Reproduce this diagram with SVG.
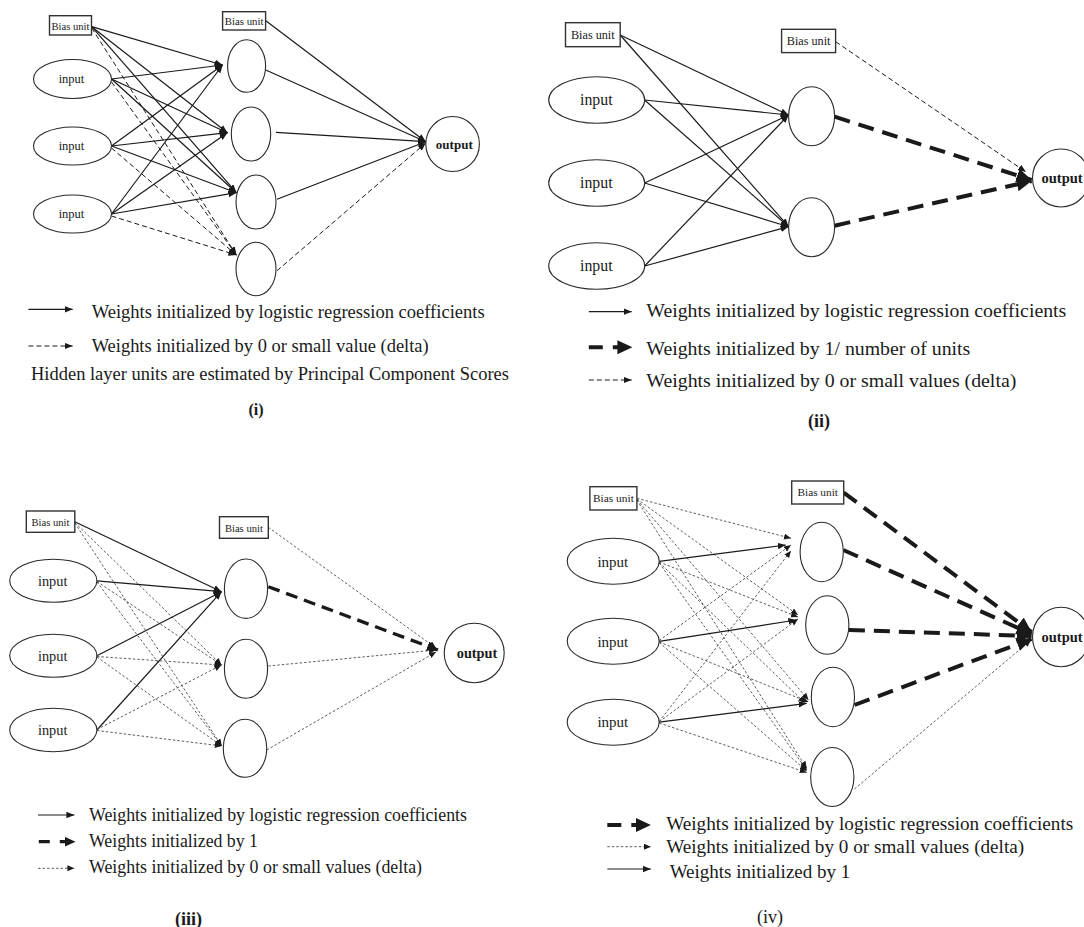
<svg xmlns="http://www.w3.org/2000/svg" width="1084" height="927" viewBox="0 0 1084 927">
<defs>
<marker id="ah" markerUnits="userSpaceOnUse" markerWidth="10" markerHeight="8" refX="8" refY="3.5" orient="auto"><path d="M0,0.3 L8,3.5 L0,6.7 z" fill="#1a1a1a"/></marker>
<marker id="ahs" markerUnits="userSpaceOnUse" markerWidth="8" markerHeight="7" refX="7" refY="3" orient="auto"><path d="M0,0 L7,3 L0,6 z" fill="#1a1a1a"/></marker>
<marker id="ahm" markerUnits="userSpaceOnUse" markerWidth="13" markerHeight="11" refX="11" refY="5" orient="auto"><path d="M0,0 L11,5 L0,10 z" fill="#1a1a1a"/></marker>
<marker id="ahl" markerUnits="userSpaceOnUse" markerWidth="17" markerHeight="15" refX="15" refY="7" orient="auto"><path d="M0,0 L15,7 L0,14 z" fill="#1a1a1a"/></marker>
</defs>
<style>
.node{fill:#fff;stroke:#2a2a2a;stroke-width:1.1}
.bias{fill:#fff;stroke:#333;stroke-width:1.4}
text{font-family:"Liberation Serif","Times New Roman",serif;fill:#1a1a1a}
.c{text-anchor:middle}
.b{font-weight:bold}
.s{stroke:#1a1a1a;stroke-width:1.2;fill:none;marker-end:url(#ah)}
.d{stroke:#1a1a1a;stroke-width:1;stroke-dasharray:5 3;fill:none;marker-end:url(#ah)}
.t{stroke:#333;stroke-width:0.8;stroke-dasharray:2.5 2;fill:none;marker-end:url(#ahs)}
.k{stroke:#1a1a1a;stroke-width:4;stroke-dasharray:16 9;fill:none;marker-end:url(#ahl)}
.k3{stroke:#1a1a1a;stroke-width:3.3;stroke-dasharray:12 7;fill:none;marker-end:url(#ahm)}
.leg{font-size:18px}
</style>
<rect width="1084" height="927" fill="#fff"/>

<!-- Panel (i) -->
<g id="p1-edges">
<line class="s" x1="91.7" y1="26.7" x2="222.6" y2="65"/>
<line class="s" x1="91.7" y1="26.7" x2="227.4" y2="132.7"/>
<line class="s" x1="91.7" y1="26.7" x2="236.4" y2="192.7"/>
<line class="s" x1="111.5" y1="79" x2="222.6" y2="65"/>
<line class="s" x1="111.5" y1="79" x2="227.4" y2="132.7"/>
<line class="s" x1="111.5" y1="79" x2="236.4" y2="192.7"/>
<line class="s" x1="111.5" y1="146" x2="222.6" y2="65"/>
<line class="s" x1="111.5" y1="146" x2="227.4" y2="132.7"/>
<line class="s" x1="111.5" y1="146" x2="236.4" y2="192.7"/>
<line class="s" x1="111.5" y1="214" x2="222.6" y2="65"/>
<line class="s" x1="111.5" y1="214" x2="227.4" y2="132.7"/>
<line class="s" x1="111.5" y1="214" x2="236.4" y2="192.7"/>
<line class="d" x1="91.7" y1="28" x2="236.4" y2="255"/>
<line class="d" x1="111.5" y1="82" x2="236.4" y2="255"/>
<line class="d" x1="111.5" y1="148" x2="236.4" y2="255"/>
<line class="d" x1="111.5" y1="216" x2="236.4" y2="255"/>
<line class="s" x1="265.8" y1="20.7" x2="425.8" y2="141.7"/>
<line class="s" x1="265.8" y1="70" x2="425.8" y2="141.7"/>
<line class="s" x1="275.9" y1="132.3" x2="425.8" y2="141.7"/>
<line class="s" x1="277" y1="199.3" x2="425.8" y2="141.7"/>
<line class="d" x1="277" y1="270.7" x2="425.8" y2="143"/>
</g>
<g id="p1-bias1"><rect class="bias" x="49.5" y="15.7" width="42" height="19.3"/><text class="c" x="70.5" y="29.5" font-size="10.6">Bias unit</text></g>
<g id="p1-bias2"><rect class="bias" x="222.6" y="11.7" width="43" height="18.3"/><text class="c" x="244.1" y="25" font-size="10.8">Bias unit</text></g>
<g id="p1-in1"><ellipse class="node" cx="72.5" cy="79" rx="39" ry="19.5"/><text class="c" x="71.5" y="83.3" font-size="12.5">input</text></g>
<g id="p1-in2"><ellipse class="node" cx="72.5" cy="146" rx="39" ry="19"/><text class="c" x="71.5" y="150.3" font-size="12.5">input</text></g>
<g id="p1-in3"><ellipse class="node" cx="72.5" cy="214" rx="39" ry="19"/><text class="c" x="71.5" y="218.3" font-size="12.5">input</text></g>
<g id="p1-h1"><ellipse class="node" cx="246.6" cy="66" rx="19" ry="26.3"/></g>
<g id="p1-h2"><ellipse class="node" cx="251" cy="134" rx="19.7" ry="27"/></g>
<g id="p1-h3"><ellipse class="node" cx="256" cy="202" rx="20" ry="27"/></g>
<g id="p1-h4"><ellipse class="node" cx="256" cy="269" rx="20" ry="26.7"/></g>
<g id="p1-out"><ellipse class="node" cx="452.6" cy="144" rx="26.8" ry="27.5"/><text class="c b" x="454.3" y="148.5" font-size="13">output</text></g>
<g id="p1-legend">
<line class="s" x1="28.4" y1="309.3" x2="72.7" y2="309.3"/>
<line class="d" x1="28.4" y1="346" x2="72.7" y2="346"/>
<text class="leg" x="91.7" y="318.3" textLength="393" lengthAdjust="spacingAndGlyphs">Weights initialized by logistic regression coefficients</text>
<text class="leg" x="91.7" y="351.7" textLength="337" lengthAdjust="spacingAndGlyphs">Weights initialized by 0 or small value (delta)</text>
<text class="leg" x="31" y="380" textLength="478" lengthAdjust="spacingAndGlyphs">Hidden layer units are estimated by Principal Component Scores</text>
<text class="c b" x="256" y="415" font-size="16">(i)</text>
</g>

<!-- Panel (ii) -->
<g id="p2-edges">
<line class="s" x1="620.2" y1="35" x2="788.6" y2="115"/>
<line class="s" x1="620.2" y1="35" x2="788.6" y2="226.7"/>
<line class="s" x1="644.6" y1="100" x2="788.6" y2="115"/>
<line class="s" x1="644.6" y1="100" x2="788.6" y2="226.7"/>
<line class="s" x1="644.6" y1="183" x2="788.6" y2="115"/>
<line class="s" x1="644.6" y1="183" x2="788.6" y2="226.7"/>
<line class="s" x1="644.6" y1="266" x2="788.6" y2="115"/>
<line class="s" x1="644.6" y1="266" x2="788.6" y2="226.7"/>
<line class="d" x1="835.7" y1="41.7" x2="1026" y2="172"/>
<line class="k" x1="834.6" y1="116.7" x2="1031.6" y2="180"/>
<line class="k" x1="834.6" y1="225.7" x2="1031.6" y2="181"/>
</g>
<g id="p2-bias1"><rect class="bias" x="565.5" y="22.7" width="54.7" height="24"/><text class="c" x="592.8" y="38.8" font-size="12.2">Bias unit</text></g>
<g id="p2-bias2"><rect class="bias" x="781.6" y="29.3" width="54" height="23.3"/><text class="c" x="808.6" y="45" font-size="12.2">Bias unit</text></g>
<g id="p2-in1"><ellipse class="node" cx="596.7" cy="100" rx="48" ry="23.3"/><text class="c" x="596.3" y="105.3" font-size="15.8">input</text></g>
<g id="p2-in2"><ellipse class="node" cx="596.7" cy="183" rx="48" ry="23.3"/><text class="c" x="596.3" y="188.3" font-size="15.8">input</text></g>
<g id="p2-in3"><ellipse class="node" cx="596.7" cy="266" rx="48" ry="23.3"/><text class="c" x="596.3" y="271.3" font-size="15.8">input</text></g>
<g id="p2-h1"><ellipse class="node" cx="811.6" cy="116.2" rx="23" ry="29.5"/></g>
<g id="p2-h2"><ellipse class="node" cx="811.6" cy="227.2" rx="23" ry="29.5"/></g>
<g id="p2-out"><ellipse class="node" cx="1061" cy="178" rx="28.5" ry="29"/><text class="b" x="1041.5" y="183" font-size="14.5">output</text></g>
<g id="p2-legend">
<line class="s" x1="588.8" y1="311.7" x2="631.7" y2="311.7"/>
<line class="k" x1="588.8" y1="347.3" x2="632.4" y2="347.3" style="stroke-dasharray:14 10"/>
<line class="d" x1="588.8" y1="380" x2="631.7" y2="380"/>
<text class="leg" x="646.3" y="316.7" font-size="18.5" textLength="420" lengthAdjust="spacingAndGlyphs">Weights initialized by logistic regression coefficients</text>
<text class="leg" x="646.3" y="355" font-size="18.5" textLength="324" lengthAdjust="spacingAndGlyphs">Weights initialized by 1/ number of units</text>
<text class="leg" x="646.3" y="386.7" font-size="18.5" textLength="370" lengthAdjust="spacingAndGlyphs">Weights initialized by 0 or small values (delta)</text>
<text class="c b" x="819" y="426.7" font-size="18">(ii)</text>
</g>

<!-- Panel (iii) -->
<g id="p3-edges">
<line class="s" x1="74.8" y1="521.7" x2="221.5" y2="591.7"/>
<line class="s" x1="96.9" y1="580.8" x2="221.5" y2="591.7"/>
<line class="s" x1="96.9" y1="655.7" x2="221.5" y2="591.7"/>
<line class="s" x1="96.9" y1="730" x2="221.5" y2="591.7"/>
<line class="t" x1="74.8" y1="522.5" x2="221.5" y2="665"/>
<line class="t" x1="74.8" y1="523" x2="221.7" y2="746"/>
<line class="t" x1="96.9" y1="581.5" x2="221.5" y2="665"/>
<line class="t" x1="96.9" y1="582" x2="221.7" y2="746"/>
<line class="t" x1="96.9" y1="656.5" x2="221.5" y2="665"/>
<line class="t" x1="96.9" y1="657" x2="221.7" y2="746"/>
<line class="t" x1="96.9" y1="729.5" x2="221.5" y2="665"/>
<line class="t" x1="96.9" y1="730.5" x2="221.7" y2="746"/>
<line class="t" x1="268.3" y1="527.3" x2="436" y2="648"/>
<line class="t" x1="268.3" y1="666" x2="436" y2="650"/>
<line class="t" x1="266.7" y1="750" x2="436" y2="652"/>
<line class="k3" x1="268.3" y1="586.7" x2="437.9" y2="650"/>
</g>
<g id="p3-bias1"><rect class="bias" x="26.3" y="511" width="48.5" height="21.3"/><text class="c" x="50.5" y="525.5" font-size="10.6">Bias unit</text></g>
<g id="p3-bias2"><rect class="bias" x="219.5" y="516.7" width="48.8" height="21.6"/><text class="c" x="243.9" y="531.5" font-size="10.6">Bias unit</text></g>
<g id="p3-in1"><ellipse class="node" cx="53.3" cy="580.8" rx="43.6" ry="21.5"/><text class="c" x="52.7" y="585.8" font-size="14.3">input</text></g>
<g id="p3-in2"><ellipse class="node" cx="53.3" cy="655.7" rx="43.6" ry="21.5"/><text class="c" x="52.7" y="660.7" font-size="14.3">input</text></g>
<g id="p3-in3"><ellipse class="node" cx="53.3" cy="730" rx="43.6" ry="21.7"/><text class="c" x="52.7" y="735" font-size="14.3">input</text></g>
<g id="p3-h1"><ellipse class="node" cx="246" cy="588.7" rx="21.6" ry="29.7"/></g>
<g id="p3-h2"><ellipse class="node" cx="246" cy="668.8" rx="21.6" ry="29.5"/></g>
<g id="p3-h3"><ellipse class="node" cx="245" cy="748.3" rx="21.7" ry="29"/></g>
<g id="p3-out"><ellipse class="node" cx="474.2" cy="653" rx="30" ry="29.7"/><text class="c b" x="477" y="658" font-size="14.3">output</text></g>
<g id="p3-legend">
<line class="s" x1="38" y1="815" x2="74.4" y2="815"/>
<line class="k3" x1="38.8" y1="841.7" x2="75.5" y2="841.7" style="stroke-dasharray:11 10"/>
<line class="t" x1="38" y1="868.3" x2="74.4" y2="868.3"/>
<text class="leg" x="89" y="820.7" font-size="17.5" textLength="378" lengthAdjust="spacingAndGlyphs">Weights initialized by logistic regression coefficients</text>
<text class="leg" x="89" y="846.7" font-size="17.5" textLength="169" lengthAdjust="spacingAndGlyphs">Weights initialized by 1</text>
<text class="leg" x="89" y="873.3" font-size="17.5" textLength="333" lengthAdjust="spacingAndGlyphs">Weights initialized by 0 or small values (delta)</text>
<text class="c b" x="188.6" y="925" font-size="18">(iii)</text>
</g>

<!-- Panel (iv) -->
<g id="p4-edges">
<line class="t" x1="636.9" y1="498.3" x2="791" y2="538.3"/>
<line class="t" x1="636.9" y1="499" x2="798" y2="615"/>
<line class="t" x1="636.9" y1="499.5" x2="808.5" y2="700"/>
<line class="t" x1="636.9" y1="500" x2="806.7" y2="768.3"/>
<line class="t" x1="659.2" y1="562" x2="798" y2="617"/>
<line class="t" x1="659.2" y1="562.5" x2="805" y2="703"/>
<line class="t" x1="659.2" y1="563" x2="806.7" y2="770"/>
<line class="t" x1="659.2" y1="640.5" x2="791" y2="545"/>
<line class="t" x1="659.2" y1="642" x2="808.5" y2="702"/>
<line class="t" x1="659.2" y1="642.5" x2="806.7" y2="771"/>
<line class="t" x1="659.2" y1="721.5" x2="791" y2="550.7"/>
<line class="t" x1="659.2" y1="721.8" x2="798" y2="619"/>
<line class="t" x1="659.2" y1="723" x2="806.7" y2="772.5"/>
<line class="s" x1="659.2" y1="561.3" x2="785.8" y2="545"/>
<line class="s" x1="659.2" y1="641.3" x2="796.3" y2="620"/>
<line class="s" x1="659.2" y1="722.2" x2="806.7" y2="703.3"/>
<line class="t" x1="854.5" y1="789" x2="1031" y2="640"/>
<line class="k" x1="843.7" y1="492.7" x2="1031.6" y2="632"/>
<line class="k" x1="843.3" y1="550" x2="1031.6" y2="634"/>
<line class="k" x1="848.9" y1="630" x2="1031.6" y2="636"/>
<line class="k" x1="854.5" y1="705" x2="1031.6" y2="639"/>
</g>
<g id="p4-bias1"><rect class="bias" x="589.9" y="486.7" width="47" height="23.3"/><text class="c" x="613.4" y="502" font-size="11.4">Bias unit</text></g>
<g id="p4-bias2"><rect class="bias" x="791.7" y="481" width="52" height="23"/><text class="c" x="817.7" y="496.3" font-size="11.3">Bias unit</text></g>
<g id="p4-in1"><ellipse class="node" cx="613.2" cy="561.3" rx="46" ry="23"/><text class="c" x="612.8" y="566.5" font-size="15">input</text></g>
<g id="p4-in2"><ellipse class="node" cx="613.2" cy="641.3" rx="46" ry="23"/><text class="c" x="612.8" y="646.5" font-size="15">input</text></g>
<g id="p4-in3"><ellipse class="node" cx="613.2" cy="722.2" rx="46" ry="23"/><text class="c" x="612.8" y="727.4" font-size="15">input</text></g>
<g id="p4-h1"><ellipse class="node" cx="821.7" cy="552" rx="21.6" ry="29.7"/></g>
<g id="p4-h2"><ellipse class="node" cx="827.3" cy="625" rx="21.6" ry="29.3"/></g>
<g id="p4-h3"><ellipse class="node" cx="832.9" cy="697" rx="21.6" ry="29.7"/></g>
<g id="p4-h4"><ellipse class="node" cx="832.3" cy="777" rx="21.6" ry="29.5"/></g>
<g id="p4-out"><ellipse class="node" cx="1061" cy="637" rx="28.5" ry="29.7"/><text class="b" x="1041.5" y="642" font-size="14.5">output</text></g>
<g id="p4-legend">
<line class="k" x1="607.3" y1="825" x2="650.9" y2="825" style="stroke-dasharray:14 10"/>
<line class="t" x1="607.3" y1="846.7" x2="650.9" y2="846.7"/>
<line class="s" x1="607.3" y1="869" x2="650.9" y2="869"/>
<text class="leg" x="666.2" y="830" font-size="18.5" textLength="407" lengthAdjust="spacingAndGlyphs">Weights initialized by logistic regression coefficients</text>
<text class="leg" x="666.2" y="853.3" font-size="18.5" textLength="358" lengthAdjust="spacingAndGlyphs">Weights initialized by 0 or small values (delta)</text>
<text class="leg" x="669.7" y="878.3" font-size="18.5" textLength="180.6" lengthAdjust="spacingAndGlyphs">Weights initialized by 1</text>
<text class="c" x="770" y="923.3" font-size="18">(iv)</text>
</g>
</svg>
